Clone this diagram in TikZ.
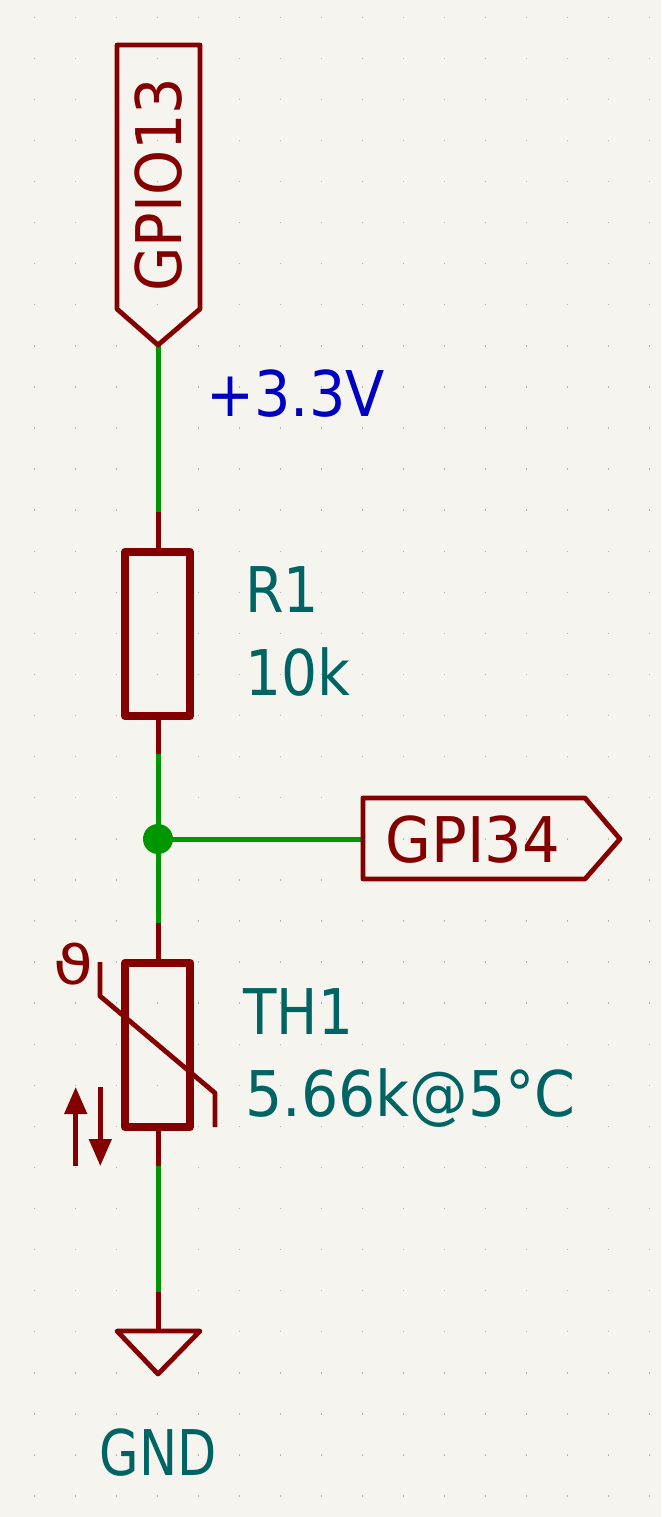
\documentclass[tikz,border=0pt]{standalone}
\usepackage{fontspec}
\usepackage{xcolor}
\usetikzlibrary{arrows.meta,positioning}
\setmainfont{DejaVu Sans}
\definecolor{sheetbg}{RGB}{245,244,239}
\definecolor{griddot}{RGB}{185,185,185}
\definecolor{symred}{RGB}{132,0,0}
\definecolor{wiregreen}{RGB}{0,150,0}
\definecolor{valteal}{RGB}{0,100,100}
\definecolor{railblue}{RGB}{0,0,194}

\begin{document}
\begin{tikzpicture}[x=0.5pt,y=-0.5pt,
    wire/.style={wiregreen, line width=2.5pt},
    pin/.style={symred, line width=2.5pt},
    body/.style={symred, line width=4.2pt, line join=round},
    outline/.style={symred, line width=2.4pt, line join=round},
    lbl/.style={inner sep=0pt, anchor=base west, font=\fontsize{31.5}{31.5}\selectfont\addfontfeature{FakeStretch=#1}},
    lbl/.default=0.92,
    tip/.style={-{Triangle[length=13.5pt,width=11pt]}, symred, line width=2.3pt}
]
    \useasboundingbox (0,0) rectangle (661,1517);
    \fill[sheetbg] (0,0) rectangle (661,1517);
    \foreach \i in {0,...,15}
      \foreach \j in {0,...,36}
        \fill[griddot] ({34.7+41*\i-0.7},{17.2+41.08*\j-0.7}) rectangle ++(1.4,1.4);

    % nets
    \coordinate (tophi) at (158,345);
    \coordinate (r1top) at (158,512);
    \coordinate (r1pintop) at (158,552);
    \coordinate (r1pinbot) at (158,716);
    \coordinate (r1low) at (158,754);
    \coordinate (thtop) at (158,923);
    \coordinate (thpintop) at (158,963);
    \coordinate (thpinbot) at (158,1127);
    \coordinate (thlow) at (158,1166);
    \coordinate (gndtop) at (158,1292);
    \coordinate (gndbar) at (158,1331);
    \coordinate (junc) at (158,839);
    \coordinate (gpitail) at (363,839);

    \draw[wire] (tophi) -- (r1top);
    \draw[wire] (r1low) -- (thtop);
    \draw[wire] (junc) -- (gpitail);
    \draw[wire] (thlow) -- (gndtop);
    \fill[wiregreen] (junc) circle (15);

    \draw[pin] (r1top) -- (r1pintop);
    \draw[pin] (r1pinbot) -- (r1low);
    \draw[pin] (thtop) -- (thpintop);
    \draw[pin] (thpinbot) -- (thlow);
    \draw[pin] (gndtop) -- (gndbar);

    % labels
    \draw[outline] (117,45) -- (200,45) -- (200,309) -- (158,345) -- (117,309) -- cycle;
    \node[lbl=0.91, text=symred, rotate=90] (gpio) at (181,292) {GPIO13};
    \draw[outline] (363,798) -- (585,798) -- (620,839) -- (585,879) -- (363,879) -- cycle;
    \node[lbl=0.94, text=symred] (gpin) at (385,862) {GPI34};
    \node[lbl=0.91, text=railblue] (rail) at (206,416) {+3.3V};

    % parts
    \draw[body] (125,552) rectangle (190,716);
    \node[lbl=0.88, text=valteal] (rname) at (245,612) {R1};
    \node[lbl=0.9, text=valteal] (rval) at (245,695) {10k};

    \draw[body] (125,963) rectangle (190,1127);
    \draw[outline] (100,962) -- (100,996) -- (215,1093) -- (215,1127);
    \draw[tip] (75.7,1166) -- (75.7,1087);
    \draw[tip] (100.3,1087) -- (100.3,1166);
    \node[lbl, text=symred, font=\fontsize{27}{27}\selectfont\addfontfeature{FakeStretch=1.2}] (theta) at (53,984) {ϑ};
    \node[lbl=0.87, text=valteal] (thname) at (243,1034) {TH1};
    \node[lbl=0.93, text=valteal] (thval) at (245,1116) {5.66k@5°C};

    \draw[outline] (117,1331) -- (200,1331) -- (158,1374) -- cycle;
    \node[lbl=0.81, text=valteal, anchor=base] (gnd) at (158,1475) {GND};
\end{tikzpicture}
\end{document}
